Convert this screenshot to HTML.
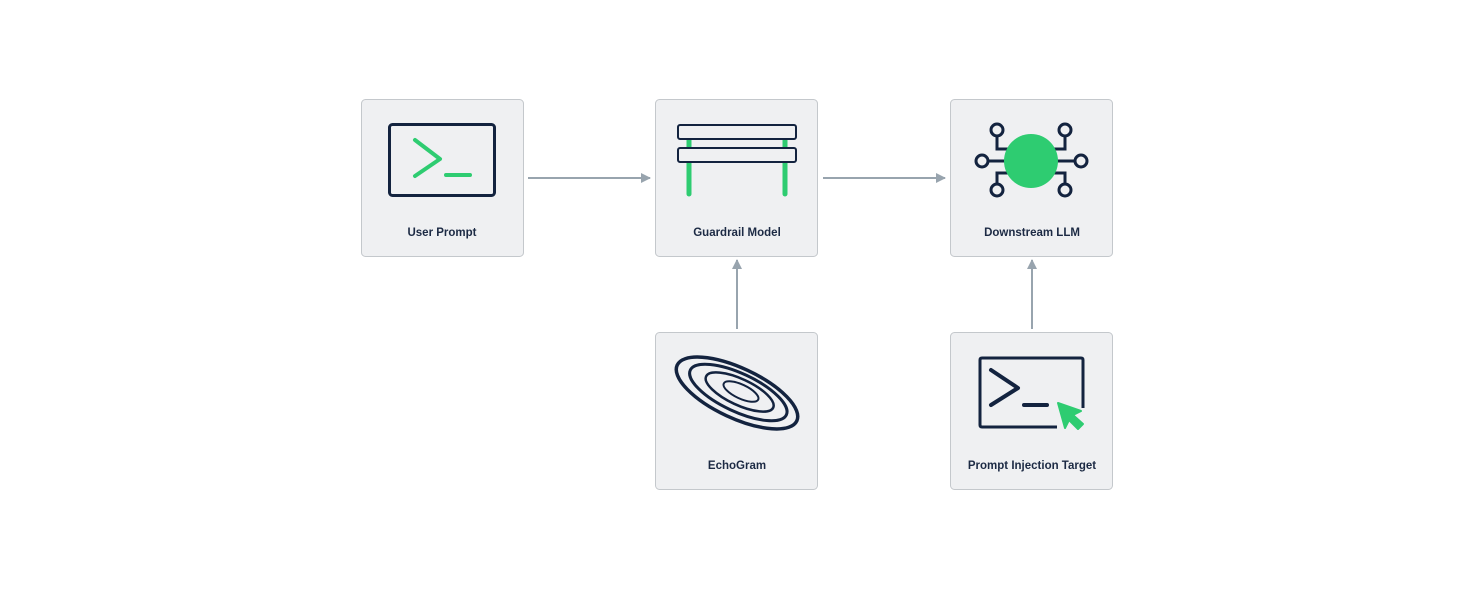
<!DOCTYPE html>
<html><head><style>
body{margin:0;background:#fff;}
svg{display:block}
text{font-family:"Liberation Sans",sans-serif;font-size:11.5px;font-weight:bold;fill:#1c2a44;text-anchor:middle}
</style></head><body>
<svg width="1474" height="589" viewBox="0 0 1474 589">
<defs><marker id="a" markerWidth="10" markerHeight="10" refX="9" refY="5" orient="auto" markerUnits="userSpaceOnUse"><path d="M0,0 L10,5 L0,10 z" fill="#98a4ae"/></marker></defs>
<g fill="#eff0f2" stroke="#c4c8cc" stroke-width="1">
<rect x="361.5" y="99.5" width="162" height="157" rx="4"/>
<rect x="655.5" y="99.5" width="162" height="157" rx="4"/>
<rect x="950.5" y="99.5" width="162" height="157" rx="4"/>
<rect x="655.5" y="332.5" width="162" height="157" rx="4"/>
<rect x="950.5" y="332.5" width="162" height="157" rx="4"/>
</g>
<g stroke="#98a4ae" stroke-width="2" fill="none">
<line x1="528" y1="178" x2="650" y2="178" marker-end="url(#a)"/>
<line x1="823" y1="178" x2="945" y2="178" marker-end="url(#a)"/>
<line x1="737" y1="329" x2="737" y2="260" marker-end="url(#a)"/>
<line x1="1032" y1="329" x2="1032" y2="260" marker-end="url(#a)"/>
</g>
<text x="442" y="236">User Prompt</text>
<text x="737" y="236">Guardrail Model</text>
<text x="1032" y="236">Downstream LLM</text>
<text x="737" y="469">EchoGram</text>
<text x="1032" y="469">Prompt Injection Target</text>
<rect x="389.5" y="124.5" width="105" height="71" rx="3" fill="none" stroke="#13233f" stroke-width="3"/>
<path d="M415,140 L440,159 L415,176" fill="none" stroke="#2ecc71" stroke-width="4" stroke-linecap="round" stroke-linejoin="round"/>
<line x1="446" y1="175" x2="470" y2="175" stroke="#2ecc71" stroke-width="4" stroke-linecap="round"/>
<line x1="689" y1="138" x2="689" y2="194" stroke="#2ecc71" stroke-width="5" stroke-linecap="round"/>
<line x1="785" y1="138" x2="785" y2="194" stroke="#2ecc71" stroke-width="5" stroke-linecap="round"/>
<rect x="678" y="125" width="118" height="14" rx="2" fill="#eff0f2" stroke="#13233f" stroke-width="2"/>
<rect x="678" y="148" width="118" height="14" rx="2" fill="#eff0f2" stroke="#13233f" stroke-width="2"/>
<g stroke="#13233f" stroke-width="3" fill="none">
<path d="M997,136 V149 H1015"/><path d="M1065,136 V149 H1047"/>
<path d="M997,184 V173 H1015"/><path d="M1065,184 V173 H1047"/>
<line x1="988" y1="161" x2="1010" y2="161"/><line x1="1052" y1="161" x2="1075" y2="161"/>
<circle cx="997" cy="130" r="6"/><circle cx="1065" cy="130" r="6"/>
<circle cx="982" cy="161" r="6"/><circle cx="1081" cy="161" r="6"/>
<circle cx="997" cy="190" r="6"/><circle cx="1065" cy="190" r="6"/>
</g>
<circle cx="1031" cy="161" r="27" fill="#2ecc71"/>
<g fill="none" stroke="#13233f" transform="rotate(25 737 393)">
<ellipse cx="737" cy="393" rx="66" ry="25" stroke-width="3.5"/>
<ellipse cx="738" cy="392" rx="53" ry="19" stroke-width="3"/>
<ellipse cx="739" cy="391" rx="37" ry="13" stroke-width="2.5"/>
<ellipse cx="740" cy="390" rx="19" ry="7" stroke-width="2"/>
</g>
<path d="M1057,427 H982 Q980,427 980,425 V360 Q980,358 982,358 H1081 Q1083,358 1083,360 V408" fill="none" stroke="#13233f" stroke-width="3"/>
<path d="M991,370 L1018,388 L991,405" fill="none" stroke="#13233f" stroke-width="4" stroke-linecap="round" stroke-linejoin="round"/>
<line x1="1024" y1="405" x2="1047" y2="405" stroke="#13233f" stroke-width="4" stroke-linecap="round"/>
<path d="M1058,403 L1081,411 L1073,415 L1083,424 L1078,429 L1069,420 L1065,428 Z" fill="#2ecc71" stroke="#2ecc71" stroke-width="2" stroke-linejoin="round"/>
</svg>
</body></html>
